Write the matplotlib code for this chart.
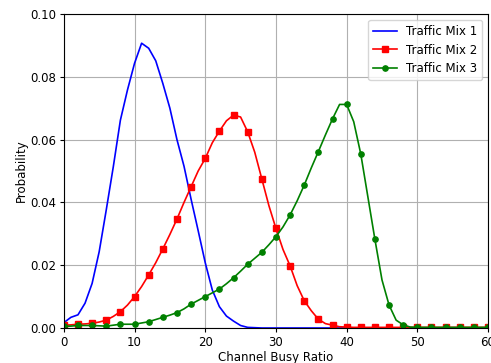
import matplotlib
matplotlib.use("Agg")
import matplotlib.pyplot as plt
import numpy as np

x = np.arange(0, 61)

mix1 = [0.0017, 0.0034, 0.0042, 0.0079, 0.0142, 0.0243, 0.0376, 0.0514, 0.0662, 0.0758,
        0.0843, 0.0907, 0.0891, 0.0851, 0.0779, 0.0700, 0.0600, 0.0515, 0.0410, 0.0310,
        0.0208, 0.0121, 0.0068, 0.0038, 0.0022, 0.0008, 0.0002, 0.0001, 0.0, 0.0] + [0.0] * 31

mix2 = [0.0009, 0.0010, 0.0012, 0.0013, 0.0015, 0.0019, 0.0025, 0.0037, 0.0052, 0.0073,
        0.0100, 0.0132, 0.0169, 0.0208, 0.0252, 0.0298, 0.0347, 0.0400, 0.0450, 0.0500,
        0.0540, 0.0590, 0.0627, 0.0660, 0.0678, 0.0672, 0.0625, 0.0560, 0.0475, 0.0390,
        0.0317, 0.0250, 0.0198, 0.0135, 0.0087, 0.0055, 0.0028, 0.0014, 0.0009, 0.0004,
        0.0003] + [0.0002] * 20

mix3 = [0.0005, 0.0006, 0.0008, 0.0008, 0.0008, 0.0007, 0.0006, 0.0009, 0.0012, 0.0012,
        0.0012, 0.0016, 0.0020, 0.0027, 0.0034, 0.0041, 0.0049, 0.0061, 0.0076, 0.0088,
        0.0100, 0.0112, 0.0124, 0.0141, 0.0160, 0.0181, 0.0203, 0.0222, 0.0241, 0.0265,
        0.0291, 0.0322, 0.0360, 0.0405, 0.0455, 0.0510, 0.0562, 0.0615, 0.0666, 0.0712,
        0.0712, 0.0657, 0.0554, 0.0418, 0.0282, 0.0153, 0.0073, 0.0025, 0.0010, 0.0003,
        0.0002] + [0.0002] * 10

plt.rcParams['font.size'] = 8.5
fig = plt.figure(figsize=(4.91, 3.63), dpi=100)
ax = fig.add_axes([0.130, 0.0964, 0.864, 0.865])

ax.plot(x, mix1, color='blue', lw=1.2, label="Traffic Mix 1")
ax.plot(x, mix2, color='red', lw=1.2, marker='s', markersize=4.5, markevery=2, label="Traffic Mix 2")
ax.plot(x, mix3, color='green', lw=1.2, marker='o', markersize=3.8, markevery=2, label="Traffic Mix 3")

ax.set_xlim(0, 60)
ax.set_ylim(0, 0.10)
ax.set_xticks(range(0, 61, 10))
ax.set_yticks(np.arange(0, 0.101, 0.02))
ax.set_yticklabels(["0.00", "0.02", "0.04", "0.06", "0.08", "0.10"])
ax.tick_params(length=3, pad=2.5)
ax.grid(True, color='#b0b0b0', lw=0.8)
ax.set_xlabel("Channel Busy Ratio", labelpad=2)
ax.set_ylabel("Probability", labelpad=2)
ax.legend(loc='upper right')

fig.savefig("out.png", dpi=100)
